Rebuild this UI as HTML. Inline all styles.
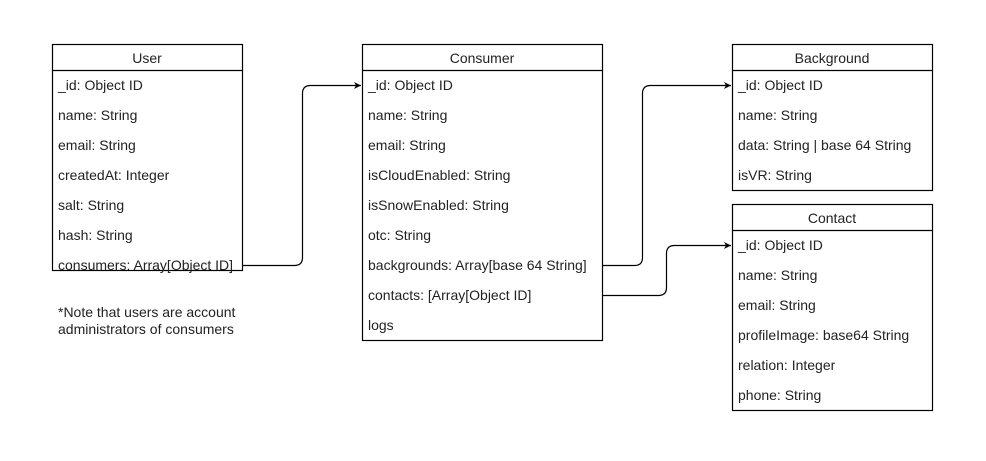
<!DOCTYPE html>
<html><head><style>html,body{margin:0;padding:0;background:#fff}svg{display:block}</style></head><body>
<svg width="986" height="461" viewBox="0 0 986 461" xmlns="http://www.w3.org/2000/svg">
<rect width="986" height="461" fill="#fff"/>
<defs><marker id="a" markerWidth="8" markerHeight="8" refX="7" refY="4" orient="auto" markerUnits="userSpaceOnUse"><path d="M0,0.5 L7,4 L0,7.5 L2,4 Z" fill="#000"/></marker></defs>
<g fill="none" stroke="#000" stroke-width="1.2">
<rect x="52.5" y="44.5" width="190" height="226"/><line x1="52.5" y1="70.5" x2="242.5" y2="70.5"/>
<rect x="362.5" y="44.5" width="240" height="296"/><line x1="362.5" y1="70.5" x2="602.5" y2="70.5"/>
<rect x="732.5" y="44.5" width="200" height="146"/><line x1="732.5" y1="70.5" x2="932.5" y2="70.5"/>
<rect x="732.5" y="204.5" width="200" height="206"/><line x1="732.5" y1="230.5" x2="932.5" y2="230.5"/>
<path d="M242.5,265.5 H294.5 Q302.5,265.5 302.5,257.5 V93.5 Q302.5,85.5 310.5,85.5 H361" marker-end="url(#a)"/>
<path d="M602.5,265.5 H634.5 Q642.5,265.5 642.5,257.5 V93.5 Q642.5,85.5 650.5,85.5 H731" marker-end="url(#a)"/>
<path d="M602.5,295.5 H658.5 Q666.5,295.5 666.5,287.5 V253.5 Q666.5,245.5 674.5,245.5 H731" marker-end="url(#a)"/>
</g>
<g font-family="Liberation Sans, Arial, sans-serif" font-size="14" fill="#222">
<text x="147" y="63" text-anchor="middle">User</text>
<text x="58" y="90">_id: Object ID</text><text x="58" y="120">name: String</text><text x="58" y="150">email: String</text><text x="58" y="180">createdAt: Integer</text><text x="58" y="210">salt: String</text><text x="58" y="240">hash: String</text><text x="58" y="270">consumers: Array[Object ID]</text>
<text x="58" y="317">*Note that users are account</text><text x="58" y="334">administrators of consumers</text>
<text x="482" y="63" text-anchor="middle">Consumer</text>
<text x="368" y="90">_id: Object ID</text><text x="368" y="120">name: String</text><text x="368" y="150">email: String</text><text x="368" y="180">isCloudEnabled: String</text><text x="368" y="210">isSnowEnabled: String</text><text x="368" y="240">otc: String</text><text x="368" y="270">backgrounds: Array[base 64 String]</text><text x="368" y="300">contacts: [Array[Object ID]</text><text x="368" y="330">logs</text>
<text x="832" y="63" text-anchor="middle">Background</text>
<text x="738" y="90">_id: Object ID</text><text x="738" y="120">name: String</text><text x="738" y="150">data: String | base 64 String</text><text x="738" y="180">isVR: String</text>
<text x="832" y="223" text-anchor="middle">Contact</text>
<text x="738" y="250">_id: Object ID</text><text x="738" y="280">name: String</text><text x="738" y="310">email: String</text><text x="738" y="340">profileImage: base64 String</text><text x="738" y="370">relation: Integer</text><text x="738" y="400">phone: String</text>
</g>
</svg>
</body></html>
